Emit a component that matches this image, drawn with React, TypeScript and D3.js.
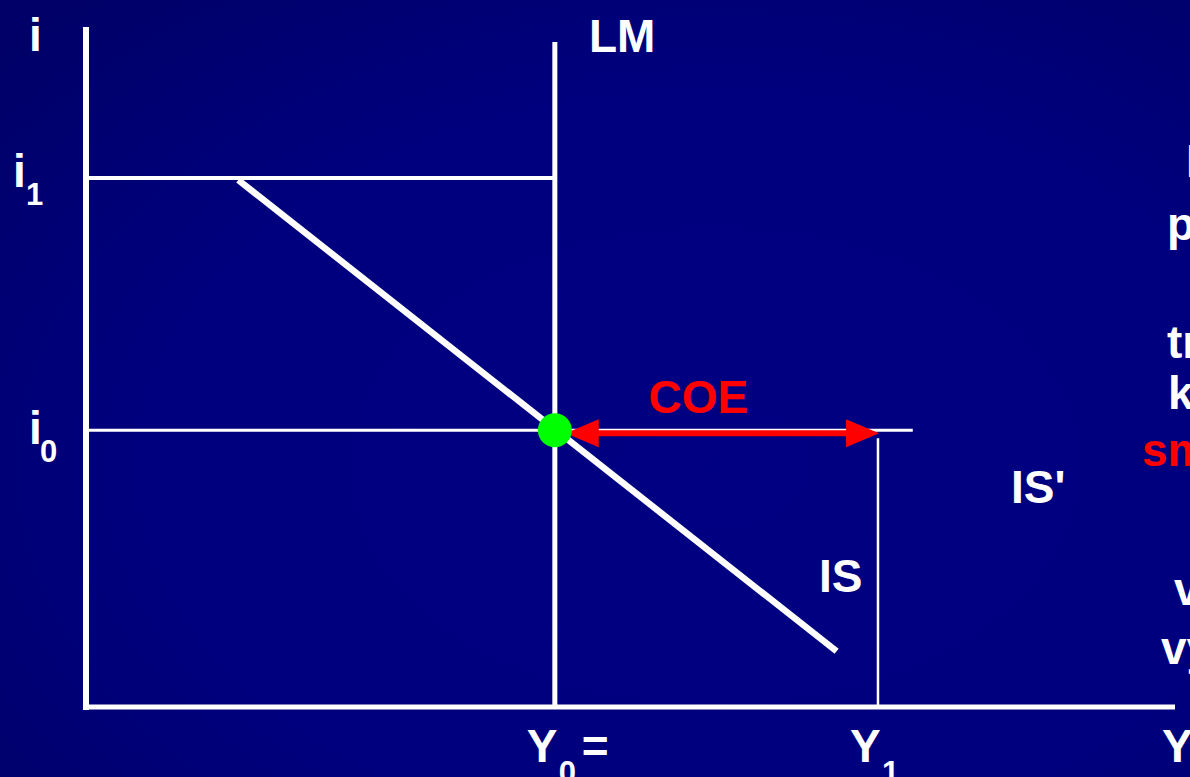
import React from "react";
import * as d3 from "d3";

const W = 1190;
const H = 777;

// Abstract model units (output on x, interest rate on y)
const outputLevels = { Y0: 43, Y1: 72.7 };
const rateLevels = { i0: 40.7, i1: 77.8 };
const isCurve: [number, number][] = [
  [13.9, 77.5],
  [68.9, 8.2],
];
const i0LineEnd = 75.9;
const lmTop = 97.8;
const yAxisTop = 100;
const xAxisEnd = 100;
const arrowRange: [number, number] = [44, 72.8];

const xTickLabels = [
  { key: "Y0", main: "Y", sub: "0", extra: "=" },
  { key: "Y1", main: "Y", sub: "1", extra: "" },
];
const yTickLabels = [
  { key: "i1", main: "i", sub: "1" },
  { key: "i0", main: "i", sub: "0" },
];
const sideTexts = [
  { t: "I", x: 1186, y: 177, c: "#fff" },
  { t: "p", x: 1167, y: 240, c: "#fff" },
  { t: "tr", x: 1167, y: 358, c: "#fff" },
  { t: "k", x: 1168, y: 409, c: "#fff" },
  { t: "sm", x: 1142, y: 466, c: "#ff0000" },
  { t: "v", x: 1174, y: 605, c: "#fff" },
  { t: "vy", x: 1161, y: 664, c: "#fff" },
];

export default function App() {
  const x = d3.scaleLinear().domain([0, 100]).range([87, 1175]);
  const y = d3.scaleLinear().domain([0, 100]).range([707, 27]);
  const line = d3.line<[number, number]>().x((d) => x(d[0])).y((d) => y(d[1]));
  const font = "'Liberation Sans', Arial, sans-serif";
  const ay = y(rateLevels.i0) + 3;
  const ax0 = x(arrowRange[0]);
  const ax1 = x(arrowRange[1]);
  const headL = 33;
  const headH = 14;

  return (
    <svg width={W} height={H} style={{ position: "absolute", left: 0, top: 0, display: "block" }}>
      <defs>
        <radialGradient id="bg" cx="0.6" cy="0.6" r="0.8">
          <stop offset="0%" stopColor="#000082" />
          <stop offset="60%" stopColor="#00007e" />
          <stop offset="100%" stopColor="#000068" />
        </radialGradient>
      </defs>
      <rect x={0} y={0} width={W} height={H} fill="url(#bg)" />

      {/* guide lines */}
      <line x1={x(0)} x2={x(outputLevels.Y0)} y1={y(rateLevels.i1)} y2={y(rateLevels.i1)} stroke="#fff" strokeWidth={4} />
      <line x1={x(0)} x2={x(i0LineEnd)} y1={y(rateLevels.i0)} y2={y(rateLevels.i0)} stroke="#fff" strokeWidth={3} />
      <line x1={x(outputLevels.Y1)} x2={x(outputLevels.Y1)} y1={y(rateLevels.i0) + 8} y2={y(0)} stroke="#fff" strokeWidth={2.5} />

      {/* LM */}
      <line x1={x(outputLevels.Y0)} x2={x(outputLevels.Y0)} y1={y(lmTop)} y2={y(0)} stroke="#fff" strokeWidth={5} />

      {/* IS */}
      <path d={line(isCurve) || ""} stroke="#fff" strokeWidth={6.5} fill="none" />

      {/* axes */}
      <line x1={x(0) - 1} x2={x(0) - 1} y1={y(yAxisTop)} y2={y(0) + 3} stroke="#fff" strokeWidth={6} />
      <line x1={x(0) - 3} x2={x(xAxisEnd)} y1={y(0)} y2={y(0)} stroke="#fff" strokeWidth={5} />

      {/* COE arrow */}
      <line x1={ax0 + headL - 2} x2={ax1 - headL + 2} y1={ay} y2={ay} stroke="#ff0000" strokeWidth={6} />
      <path d={`M${ax0},${ay} L${ax0 + headL},${ay - headH} L${ax0 + headL},${ay + headH} Z`} fill="#ff0000" />
      <path d={`M${ax1},${ay} L${ax1 - headL},${ay - headH} L${ax1 - headL},${ay + headH} Z`} fill="#ff0000" />

      {/* equilibrium point */}
      <circle cx={x(outputLevels.Y0)} cy={y(rateLevels.i0)} r={17} fill="#00ff00" />

      <g fontFamily={font} fontWeight="bold" fill="#fff">
        <text x={x(56.2)} y={413} fontSize={46} fill="#ff0000" textAnchor="middle">COE</text>
        <text x={29} y={51} fontSize={46}>i</text>
        <text x={589} y={52} fontSize={46}>LM</text>
        <text x={819} y={592} fontSize={46}>IS</text>
        <text x={1011} y={503} fontSize={46}>IS'</text>

        {yTickLabels.map((t, k) => (
          <g key={t.key}>
            <text x={k === 0 ? 13 : 29} y={y(rateLevels[t.key as "i0" | "i1"]) + (k === 0 ? 9 : 14)} fontSize={46}>{t.main}</text>
            <text x={k === 0 ? 26 : 40} y={y(rateLevels[t.key as "i0" | "i1"]) + (k === 0 ? 27 : 32)} fontSize={31}>{t.sub}</text>
          </g>
        ))}

        {xTickLabels.map((t) => {
          const cx = x(outputLevels[t.key as "Y0" | "Y1"]);
          return (
            <g key={t.key}>
              <text x={cx - 28} y={762} fontSize={46}>{t.main}</text>
              <text x={cx + 4} y={783} fontSize={31}>{t.sub}</text>
              {t.extra && <text x={cx + 27} y={762} fontSize={46}>{t.extra}</text>}
            </g>
          );
        })}
        <text x={1162} y={762} fontSize={46}>Y</text>

        {sideTexts.map((s) => (
          <text key={s.t + s.y} x={s.x} y={s.y} fontSize={46} fill={s.c}>{s.t}</text>
        ))}
      </g>
    </svg>
  );
}
